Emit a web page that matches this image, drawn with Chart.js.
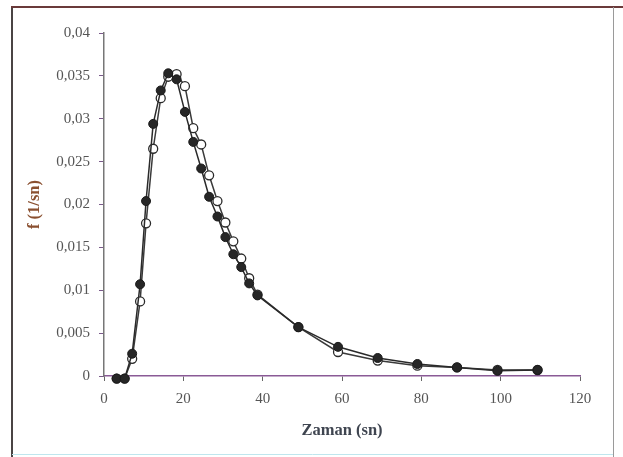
<!DOCTYPE html>
<html>
<head>
<meta charset="utf-8">
<script src="https://cdn.jsdelivr.net/npm/chart.js@4/dist/chart.umd.min.js"></script>
<style>
  html, body { margin: 0; padding: 0; background: #fff; }
  #wrap { width: 623px; height: 457px; position: relative; }
</style>
</head>
<body>
<div id="wrap"><canvas id="c" width="623" height="457"></canvas></div>
<script>
// Time (sn)
const times = [3.2, 5.2, 7.1, 9.1, 10.6, 12.4, 14.3, 16.2, 18.3, 20.4, 22.5, 24.5, 26.5, 28.6, 30.6, 32.6, 34.6, 36.6, 38.7, 49, 59, 69, 79, 89, 99.2, 109.3];
// filled-marker series f (1/sn)
const filledSeries = [-0.0003, -0.0003, 0.0026, 0.0107, 0.0204, 0.0294, 0.0333, 0.0353, 0.0346, 0.0308, 0.0273, 0.0242, 0.0209, 0.0186, 0.0162, 0.0142, 0.0127, 0.0108, 0.0094, 0.0057, 0.0034, 0.0021, 0.0014, 0.0010, 0.0006, 0.0007];
// open-marker series f (1/sn)
const openSeries = [-0.0003, -0.0003, 0.0020, 0.0087, 0.0178, 0.0265, 0.0324, 0.0349, 0.0352, 0.0338, 0.0289, 0.0270, 0.0234, 0.0204, 0.0179, 0.0157, 0.0137, 0.0114, 0.0095, 0.0057, 0.0028, 0.0018, 0.0012, 0.0010, 0.0007, 0.0007];
const xTicks = [0, 20, 40, 60, 80, 100, 120];
const yTicks = [0, 0.005, 0.01, 0.015, 0.02, 0.025, 0.03, 0.035, 0.04];
const xTitle = 'Zaman (sn)';
const yTitle = 'f (1/sn)';

const toPts = (xs, ys) => xs.map((x, i) => ({ x: x, y: ys[i] }));
const fmt = v => String(v).replace('.', ',');

const framePlugin = {
  id: 'frame',
  afterDraw(chart) {
    const ctx = chart.ctx;
    ctx.save();
    ctx.lineWidth = 2;
    ctx.strokeStyle = '#4a4444';
    ctx.beginPath(); ctx.moveTo(12, 7); ctx.lineTo(12, chart.height); ctx.stroke();
    ctx.strokeStyle = '#6a3a3a';
    ctx.beginPath(); ctx.moveTo(11, 7); ctx.lineTo(chart.width, 7); ctx.stroke();
    ctx.lineWidth = 1;
    ctx.strokeStyle = '#9a9a9a';
    ctx.beginPath(); ctx.moveTo(613.5, 7); ctx.lineTo(613.5, chart.height); ctx.stroke();
    ctx.strokeStyle = '#bfe6ee';
    ctx.beginPath(); ctx.moveTo(12, 454.5); ctx.lineTo(613, 454.5); ctx.stroke();
    ctx.restore();
  }
};

new Chart(document.getElementById('c'), {
  type: 'line',
  data: {
    datasets: [
      {
        label: 'open',
        order: 2,
        data: toPts(times, openSeries),
        borderColor: '#3a3a3a',
        borderWidth: 1.5,
        pointRadius: 4.5,
        pointBorderWidth: 1.3,
        pointBackgroundColor: '#ffffff',
        pointBorderColor: '#2a2a2a',
        tension: 0,
        clip: false
      },
      {
        label: 'filled',
        order: 1,
        data: toPts(times, filledSeries),
        borderColor: '#2a2a2a',
        borderWidth: 1.5,
        pointRadius: 4.5,
        pointBorderWidth: 1,
        pointBackgroundColor: '#262626',
        pointBorderColor: '#1a1a1a',
        tension: 0,
        clip: false
      }
    ]
  },
  options: {
    responsive: false,
    animation: false,
    devicePixelRatio: 1,
    layout: { padding: { left: 0, right: 43, top: 33, bottom: 0 } },
    plugins: { legend: { display: false }, tooltip: { enabled: false } },
    scales: {
      x: {
        type: 'linear',
        min: 0, max: 120,
        afterBuildTicks: s => { s.ticks = xTicks.map(v => ({ value: v })); },
        afterFit: s => { s.height = 81; },
        border: { display: true, color: '#8a5a96', width: 1.5 },
        grid: { drawOnChartArea: false, drawTicks: true, tickLength: 5, color: '#666' },
        ticks: {
          padding: 9,
          color: '#555',
          font: { family: 'Liberation Serif', size: 15 },
          maxRotation: 0,
          callback: v => fmt(v)
        },
        title: {
          display: true,
          text: xTitle,
          color: '#3f4550',
          font: { family: 'Liberation Serif', size: 16.5, weight: 'bold' },
          padding: { top: 4, bottom: 16 }
        }
      },
      y: {
        type: 'linear',
        min: 0, max: 0.04,
        afterBuildTicks: s => { s.ticks = yTicks.map(v => ({ value: v })); },
        afterFit: s => { s.width = 104; },
        border: { display: true, color: '#777', width: 1.5 },
        grid: { drawOnChartArea: false, drawTicks: true, tickLength: 5, color: '#7a5a8a' },
        ticks: {
          padding: 9,
          color: '#555',
          font: { family: 'Liberation Serif', size: 15 },
          callback: v => fmt(v)
        },
        title: {
          display: true,
          text: yTitle,
          color: '#8a5030',
          font: { family: 'Liberation Serif', size: 16.5, weight: 'bold' },
          padding: { top: 25, bottom: 0 }
        }
      }
    }
  },
  plugins: [framePlugin]
});
</script>
</body>
</html>
